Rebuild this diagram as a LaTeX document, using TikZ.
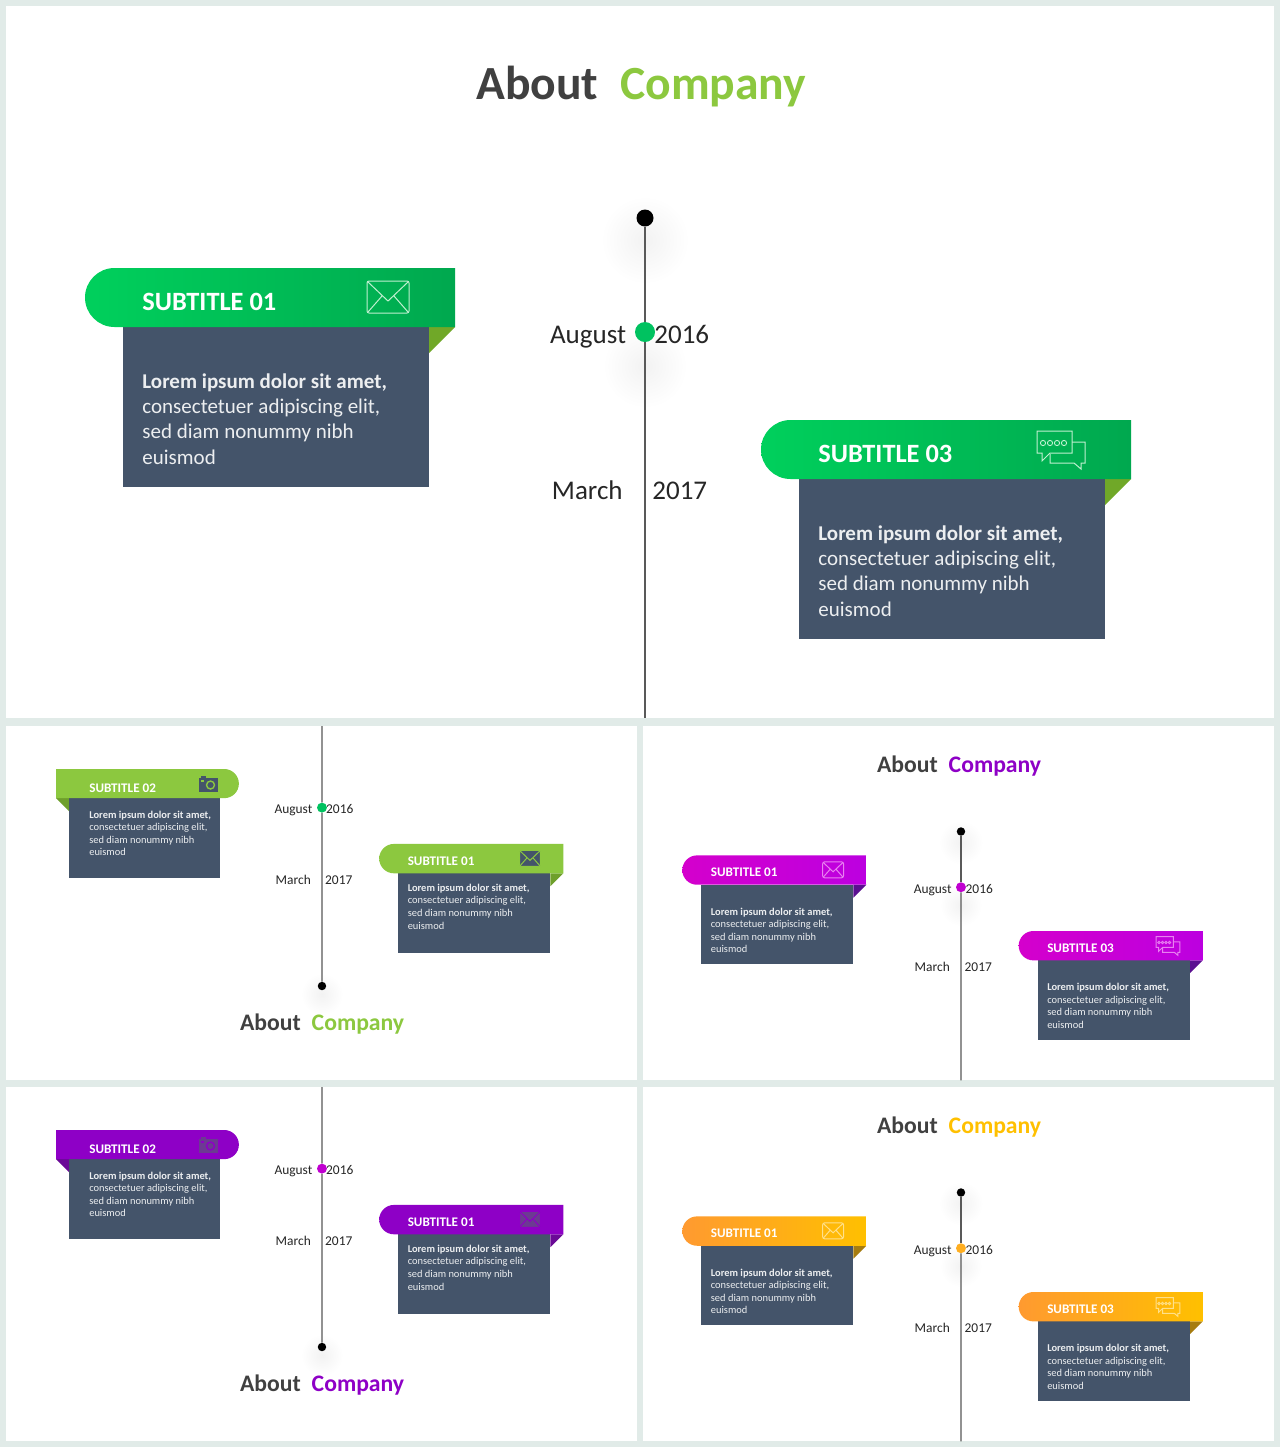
\documentclass[tikz,border=0pt]{standalone}
\usepackage{fontspec}
\setmainfont{Carlito}
\definecolor{pagebg}{HTML}{E1EBE8}
\definecolor{slate}{HTML}{44546A}
\definecolor{ink}{HTML}{404040}
\definecolor{axisgray}{HTML}{595959}
\definecolor{gA}{HTML}{00D05C}\definecolor{gB}{HTML}{00A84F}\definecolor{gF}{HTML}{70A828}\definecolor{gI}{HTML}{C0F0D0}\definecolor{gD}{HTML}{00C260}
\definecolor{lime}{HTML}{8CC83F}\definecolor{limeF}{HTML}{6E9F2B}
\definecolor{mA}{HTML}{D400CC}\definecolor{mB}{HTML}{BC00E0}\definecolor{mF}{HTML}{5A1090}\definecolor{mI}{HTML}{E880F0}\definecolor{mD}{HTML}{C000D0}
\definecolor{pu}{HTML}{8E00C6}\definecolor{puF}{HTML}{6A0A96}\definecolor{puI}{HTML}{6C3A92}
\definecolor{oA}{HTML}{FF9A30}\definecolor{oB}{HTML}{FFC000}\definecolor{oF}{HTML}{A67C10}\definecolor{oI}{HTML}{FFE08A}\definecolor{oD}{HTML}{FFAE20}
\tikzset{
 x=0.5pt,y=-0.5pt,
 panel/.style={fill=white,draw=none},
 body/.style={fill=slate,draw=none},
 subtitle/.style={anchor=west,inner sep=0pt,text=white,font=\fontsize{13.2}{15}\selectfont\bfseries},
 bodytext/.style={anchor=north west,inner sep=0pt,text=white!90!slate,align=left,font=\fontsize{10.5}{12.65}\selectfont},
 datetext/.style={inner sep=0pt,text=black!85,font=\fontsize{13.5}{16}\selectfont},
 headtext/.style={inner sep=0pt,font=\fontsize{23.8}{28}\selectfont\bfseries},
 dotnode/.style={circle,inner sep=0pt,minimum size=#1,draw=none},
 axis/.style={draw=axisgray,line width=0.55pt},
 glow/.style={inner color=black!5,outer color=white,draw=none},
}
\newcommand{\lorem}{\textbf{Lorem ipsum dolor sit amet,}\\consectetuer adipiscing elit,\\sed diam nonummy nibh\\euismod}
% #1 line colour, #2 fill
\newcommand{\iconMail}[2]{%
 \draw[#1,line width=0.5pt,fill=#2,rounded corners=1pt] (367,281) rectangle (409,313);
 \draw[#1,line width=0.5pt] (368,282) -- (388,301) -- (408,282) (368,312) -- (382,296) (408,312) -- (394,296);}
\newcommand{\iconChat}[2]{%
 \draw[#1,line width=0.5pt,fill=#2] (396,290) -- (409,290) -- (409,311) -- (405,311) -- (405,317) -- (398,311) -- (374,311) -- (374,302);
 \draw[#1,line width=0.5pt,fill=#2] (361,279) -- (396,279) -- (396,301) -- (374,301) -- (366,309) -- (366,301) -- (361,301) -- cycle;
 \foreach \q in {367,374,381,388}{\draw[#1,line width=0.45pt] (\q,291) circle[radius=2.6];}}
\newcommand{\iconCamera}[2]{%
 \fill[#2] (398,106) rectangle (408,112);
 \fill[#2] (394,110.5) rectangle (432,138.6);
 \draw[#1,line width=0.7pt] (417,124.6) circle[radius=8];
 \fill[#1] (398,115) rectangle (403,119);}
% pill on the left: #1 prefix #2 dx #3 dy #4 left colour #5 right colour #6 fold #7 title #8 icon #9 text top
\newcommand{\cardLeft}[9]{%
 \begin{scope}[shift={(#2,#3)}]
  \fill[#6] (429,327) -- (455,327) -- (429,353) -- cycle;
  \fill[body] (123,327) rectangle (429,487);
  \shade[left color=#4,right color=#5] (114.5,268) -- (455,268) -- (455,327) -- (114.5,327)
    .. controls (98.2,327) and (85,313.8) .. (85,297.5) .. controls (85,281.2) and (98.2,268) .. (114.5,268) -- cycle;
  \node[subtitle] (#1-title) at (142,302) {#7};
  #8
  \node[bodytext] (#1-text) at (142,#9) {\lorem};
 \end{scope}}
% pill on the right
\newcommand{\cardRight}[9]{%
 \begin{scope}[shift={(#2,#3)}]
  \fill[#6] (132.6,151) -- (106.5,151) -- (132.6,177) -- cycle;
  \fill[body] (132.6,151) rectangle (436,311.5);
  \shade[left color=#4,right color=#5] (106.5,92.4) -- (444.5,92.4)
    .. controls (460.8,92.4) and (474,105.6) .. (474,121.9) .. controls (474,138.2) and (460.8,151) .. (444.5,151) -- (106.5,151) -- cycle;
  \node[subtitle] (#1-title) at (173,131) {#7};
  #8
  \node[bodytext] (#1-text) at (173,#9) {\lorem};
 \end{scope}}
% title on top, axis running down: #1 prefix #2-#3 origin #4 scale #5 left #6 right #7 fold #8 word colour #9 dot colour
\newcommand{\slideTop}[9]{%
 \begin{scope}[shift={(#2,#3)},scale=#4,shift={(-6,-6)},transform shape]
  \fill[panel] (6,6) rectangle (1274,718);
  \shade[glow] (645,240) circle[radius=44];
  \shade[glow] (645,366) circle[radius=42];
  \node[headtext,anchor=base west,text=ink] (#1-about) at (476,99) {About};
  \node[headtext,anchor=base west,text=#8] (#1-company) at (620,99) {Company};
  \node[dotnode=8.5pt,fill=black] (#1-top) at (645,218) {};
  \node[dotnode=10pt,fill=#9] (#1-aug) at (645,\augY) {};
  \coordinate (#1-bot) at (645,718);
  \draw[axis] (#1-top) -- (#1-aug);
  \draw[axis] (#1-aug) -- (#1-bot);
  \node[datetext,anchor=base east] (#1-m1) at (626.5,343) {August};
  \node[datetext,anchor=base west] (#1-y1) at (654,343) {2016};
  \node[datetext,anchor=base east] (#1-m2) at (623,499) {March};
  \node[datetext,anchor=base west] (#1-y2) at (652,499) {2017};
  \begin{scope}[shift={(0,\cardDy)}]
  \cardLeft{#1-a}{0}{0}{#5}{#6}{#7}{SUBTITLE 01}{\iconMail{\ICc}{none}}{373}
  \cardLeft{#1-b}{676}{152}{#5}{#6}{#7}{SUBTITLE 03}{\iconChat{\ICc}{none}}{373}
  \end{scope}
 \end{scope}}
% axis from the top, title below: #7 icon fill
\newcommand{\slideLow}[7]{%
 \begin{scope}[shift={(#2,#3)},scale=0.4976,shift={(-6,-6)},transform shape]
  \fill[panel] (6,6) rectangle (1274,718);
  \shade[glow] (641,545) circle[radius=42];
  \node[headtext,anchor=base west,text=ink] (#1-about) at (476,618) {About};
  \node[headtext,anchor=base west,text=#4] (#1-company) at (620,618) {Company};
  \coordinate (#1-start) at (641,6);
  \node[dotnode=10pt,fill=#6] (#1-aug) at (641,170) {};
  \node[dotnode=8.5pt,fill=black] (#1-end) at (641,528.5) {};
  \draw[axis] (#1-start) -- (#1-aug);
  \draw[axis] (#1-aug) -- (#1-end);
  \node[datetext,anchor=base east] (#1-m1) at (622,181) {August};
  \node[datetext,anchor=base west] (#1-y1) at (649,181) {2016};
  \node[datetext,anchor=base east] (#1-m2) at (619,324) {March};
  \node[datetext,anchor=base west] (#1-y2) at (647,324) {2017};
  \cardRight{#1-a}{0}{0}{#4}{#4}{#5}{SUBTITLE 02}{\iconCamera{#4}{#7}}{176}
  \cardLeft{#1-b}{671}{-25}{#4}{#4}{#5}{SUBTITLE 01}{\iconMail{#4}{#7}}{348}
 \end{scope}}
\begin{document}
\begin{tikzpicture}
\useasboundingbox (0,0) rectangle (1280,1447);
\fill[pagebg] (0,0) rectangle (1280,1447);
\def\ICc{gI}\def\cardDy{0}\def\augY{332}
\slideTop{s1}{6}{6}{1}{gA}{gB}{gF}{lime}{gD}
\slideLow{s2}{6}{726}{lime}{limeF}{gD}{slate}
\def\ICc{mI}\def\cardDy{-2}\def\augY{330}
\slideTop{s3}{643}{726}{0.4976}{mA}{mB}{mF}{pu}{mD}
\slideLow{s4}{6}{1087}{pu}{puF}{mD}{puI}
\def\ICc{oI}
\slideTop{s5}{643}{1087}{0.4976}{oA}{oB}{oF}{oB}{oD}
\end{tikzpicture}
\end{document}
